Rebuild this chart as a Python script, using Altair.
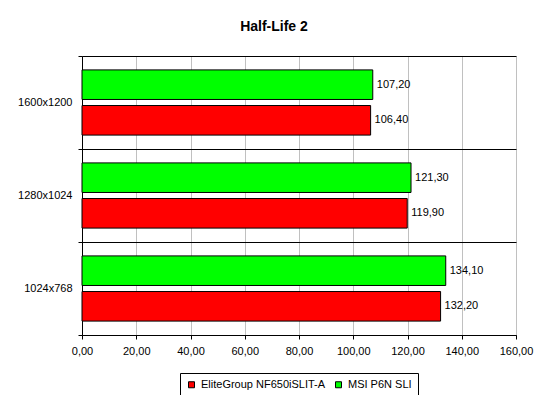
import altair as alt
import pandas as pd

resolutions = ["1600x1200", "1280x1024", "1024x768"]
series_names = ["EliteGroup NF650iSLIT-A", "MSI P6N SLI"]
elitegroup_fps = [106.40, 119.90, 132.20]
msi_fps = [107.20, 121.30, 134.10]
x_ticks = [0, 20, 40, 60, 80, 100, 120, 140, 160]
colors = ["#ff0000", "#00ff00"]

rows = []
for r, v in zip(resolutions, elitegroup_fps):
    rows.append({"res": r, "series": series_names[0], "fps": v})
for r, v in zip(resolutions, msi_fps):
    rows.append({"res": r, "series": series_names[1], "fps": v})
df = pd.DataFrame(rows)

FONT = "Liberation Sans"
W, H = 434, 279

y_enc = alt.Y(
    "res:N",
    sort=resolutions,
    scale=alt.Scale(paddingInner=0, paddingOuter=0),
    axis=alt.Axis(
        title=None,
        tickBand="extent",
        grid=True,
        gridColor="#000000",
        gridWidth=1,
        domainColor="#000000",
        tickColor="#000000",
        tickSize=4,
        labelPadding=6,
        labelFont=FONT,
        labelFontSize=11,
        labelColor="#000000",
    ),
)
yoff_enc = alt.YOffset(
    "series:N",
    sort=[series_names[1], series_names[0]],
    scale=alt.Scale(paddingInner=0.17, paddingOuter=0.39),
)
x_enc = alt.X(
    "fps:Q",
    scale=alt.Scale(domain=[0, 160], nice=False),
    axis=alt.Axis(
        title=None,
        values=x_ticks,
        labelExpr="replace(format(datum.value, '.2f'), '.', ',')",
        labelFlush=False,
        labelOverlap=False,
        grid=True,
        gridColor="#c0c0c0",
        domainColor="#000000",
        tickColor="#000000",
        tickSize=4,
        labelPadding=6,
        labelFont=FONT,
        labelFontSize=11,
        labelColor="#000000",
    ),
)

base = alt.Chart(df)

bars = base.mark_bar(stroke="#000000", strokeWidth=1).encode(
    x=x_enc,
    y=y_enc,
    yOffset=yoff_enc,
    color=alt.Color(
        "series:N",
        scale=alt.Scale(domain=series_names, range=colors),
        legend=alt.Legend(
            title=None,
            orient="none",
            legendX=98,
            legendY=317,
            direction="horizontal",
            strokeColor="#000000",
            padding=6,
            symbolType="square",
            symbolSize=36,
            symbolStrokeColor="#000000",
            symbolStrokeWidth=1,
            labelFont=FONT,
            labelFontSize=11,
            labelColor="#000000",
            labelOffset=4,
            columnPadding=7,
        ),
    ),
)

labels = base.transform_calculate(
    label="replace(format(datum.fps, '.2f'), '.', ',')"
).mark_text(
    align="left", baseline="middle", dx=4, font=FONT, fontSize=11, color="#000000"
).encode(
    x=alt.X("fps:Q"),
    y=y_enc,
    yOffset=yoff_enc,
    text="label:N",
)

chart = (
    alt.layer(bars, labels)
    .properties(
        width=W,
        height=H,
        title=alt.TitleParams(
            "Half-Life 2",
            font=FONT,
            fontSize=14,
            fontWeight="bold",
            color="#000000",
            anchor="middle",
            dx=-25,
            offset=2,
            baseline="bottom",
        ),
        autosize=alt.AutoSizeParams(type="none"),
        padding={"left": 74, "top": 48, "right": 26, "bottom": 60},
    )
    .configure_view(stroke="#c0c0c0", strokeWidth=1)
    .configure(background="#ffffff")
)

chart.save("out.html", embed_options={"renderer": "svg", "actions": False})
